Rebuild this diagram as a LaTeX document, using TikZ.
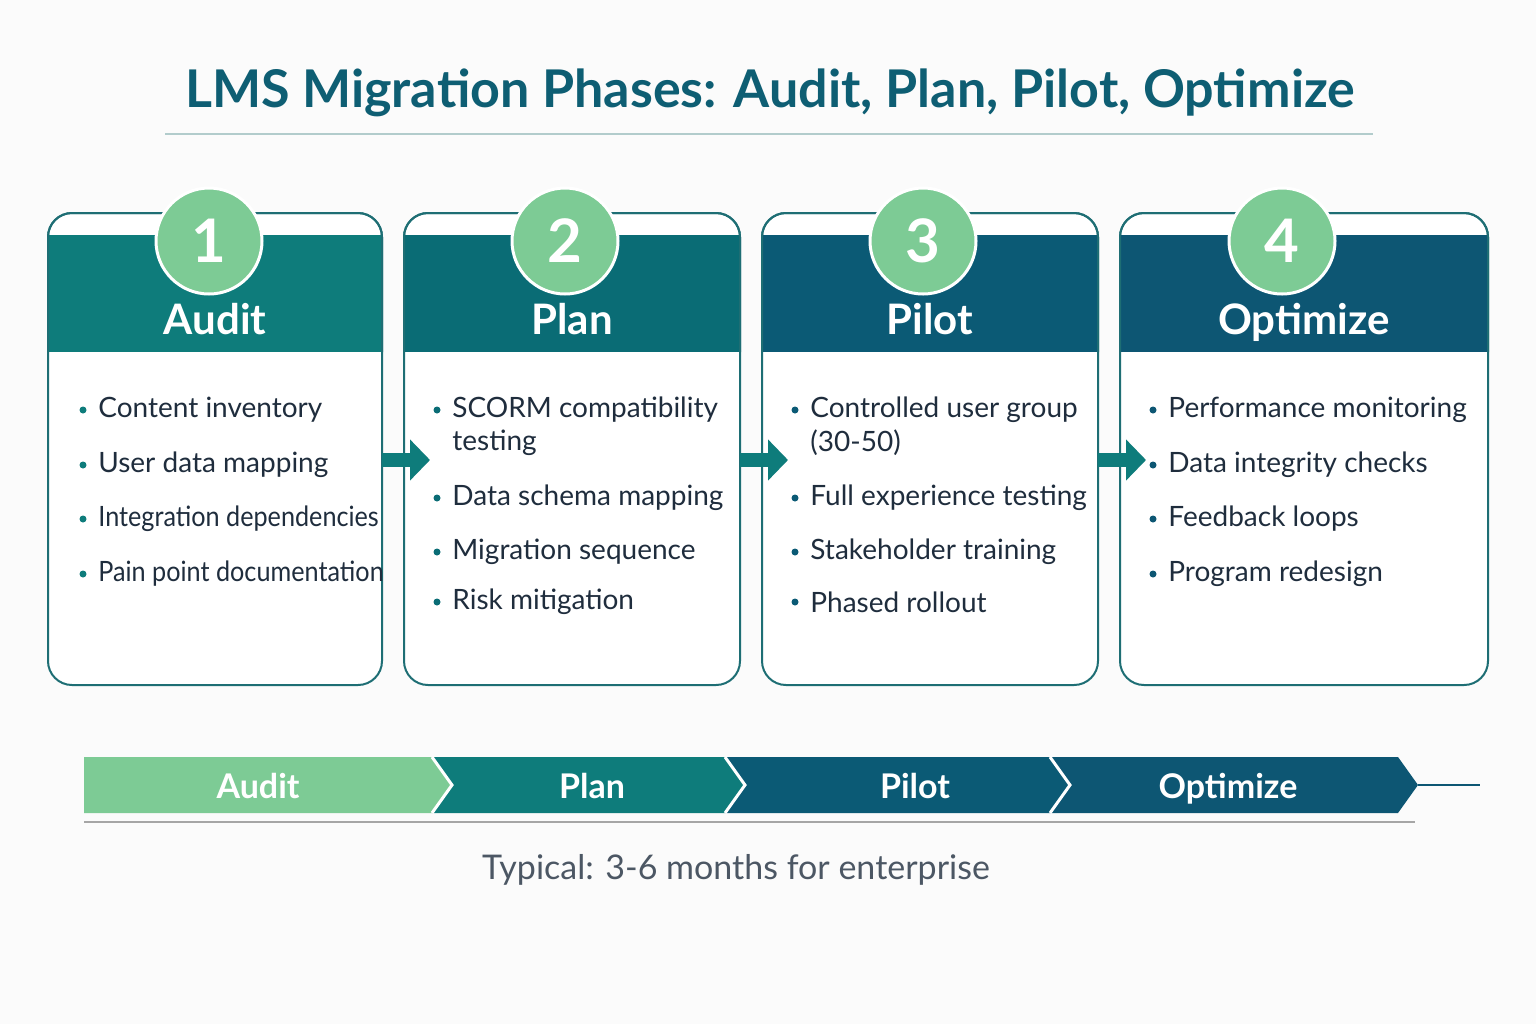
\documentclass[tikz,border=0pt]{standalone}
\usepackage{fontspec}
\setmainfont{Lato}
\usetikzlibrary{shapes.geometric,arrows.meta}
\definecolor{tealA}{HTML}{0E7C7B}
\definecolor{tealB}{HTML}{0A6C75}
\definecolor{tealC}{HTML}{0B5A75}
\definecolor{tealD}{HTML}{0D5673}
\definecolor{green1}{HTML}{7DCB95}
\definecolor{titlec}{HTML}{0E5E73}
\definecolor{txt}{HTML}{1F2D3D}
\definecolor{bord}{HTML}{1E6E74}
\begin{document}
\begin{tikzpicture}[x=0.5pt,y=-0.5pt,
  card/.style={draw=bord,line width=1pt,rounded corners=12pt,fill=white},
  num/.style={circle,fill=green1,draw=white,line width=1.5pt,minimum size=53pt,text=white,font=\fontsize{30}{30}\selectfont\bfseries},
  head/.style={anchor=base,text=white,font=\fontsize{21}{21}\selectfont\bfseries},
  item/.style={anchor=west,text=txt,font=\fontsize{14}{16}\selectfont,inner sep=0pt},
  dot/.style={circle,fill=#1,inner sep=0pt,minimum size=3.5pt},
  flow/.style={-{Triangle[length=10pt,width=20pt]},line width=7pt,draw=tealA},
  bar/.style={anchor=base,text=white,font=\fontsize{17}{17}\selectfont\bfseries}]
\fill[white!97!gray] (0,0) rectangle (1536,1024);
\useasboundingbox (0,0) rectangle (1536,1024);
\node[text=titlec,font=\fontsize{26}{28}\selectfont\bfseries] (title) at (770,93) {LMS Migration Phases: Audit, Plan, Pilot, Optimize};
\draw[color=gray!50!teal!40,line width=1pt] (165,134) -- (1373,134);

\foreach \i/\xa/\xb/\col/\nm in {1/48/382/tealA/Audit,2/404/740/tealB/Plan,3/762/1098/tealC/Pilot,4/1120/1488/tealD/Optimize}{
  \draw[card] (\xa,213) rectangle (\xb,685);
  \begin{scope}
    \clip[rounded corners=12pt] (\xa,213) rectangle (\xb,685);
    \fill[\col] (\xa,235) rectangle (\xb,352);
  \end{scope}
  \draw[bord,line width=1pt,rounded corners=12pt] (\xa,352) -- (\xa,213) -- (\xb,213) -- (\xb,352);
  \node[head] (h\i) at ({(\xa+\xb)/2},334) {\nm};
}
\node[num] (n1) at (209,241) {1};
\node[num] (n2) at (565,241) {2};
\node[num] (n3) at (923,241) {3};
\node[num] (n4) at (1282,241) {4};

% card 1
\foreach \k/\y/\t in {a/410/Content inventory,b/465/User data mapping}{
  \node[dot=tealA] (d1\k) at (83,\y) {}; \node[item] (t1\k) at (98,\y) {\t};}
\node[dot=tealA] (d1c) at (83,519) {}; \node[item] (t1c) at (98,519) {\scalebox{0.9}[1]{Integration dependencies}};
\node[dot=tealA] (d1d) at (83,574) {}; \node[item] (t1d) at (98,574) {\scalebox{0.9}[1]{Pain point documentation}};
% card 2
\foreach \k/\y/\t in {a/410/SCORM compatibility,c/498/Data schema mapping,d/552/Migration sequence,e/602/Risk mitigation}{
  \node[dot=tealB] (d2\k) at (437,\y) {}; \node[item] (t2\k) at (452,\y) {\t};}
\node[item] (t2b) at (452,443) {testing};
% card 3
\foreach \k/\y/\t in {a/410/Controlled user group,c/498/Full experience testing,d/552/Stakeholder training,e/602/Phased rollout}{
  \node[dot=tealC] (d3\k) at (795,\y) {}; \node[item] (t3\k) at (810,\y) {\t};}
\node[item] (t3b) at (810,443) {(30-50)};
% card 4
\foreach \k/\y/\t in {a/410/Performance monitoring,b/465/Data integrity checks,c/519/Feedback loops,d/574/Program redesign}{
  \node[dot=tealD] (d4\k) at (1153,\y) {}; \node[item] (t4\k) at (1168,\y) {\t};}

\coordinate (a1s) at (382,460); \coordinate (a1e) at (430,460);
\coordinate (a2s) at (740,460); \coordinate (a2e) at (788,460);
\coordinate (a3s) at (1098,460); \coordinate (a3e) at (1146,460);
\draw[flow] (a1s) -- (a1e);
\draw[flow] (a2s) -- (a2e);
\draw[flow] (a3s) -- (a3e);

\fill[green1] (84,757) -- (432,757) -- (452,785) -- (432,813) -- (84,813) -- cycle;
\fill[tealA] (432,757) -- (725,757) -- (745,785) -- (725,813) -- (432,813) -- (452,785) -- cycle;
\fill[tealC] (725,757) -- (1050,757) -- (1070,785) -- (1050,813) -- (725,813) -- (745,785) -- cycle;
\fill[tealD] (1050,757) -- (1398,757) -- (1418,785) -- (1398,813) -- (1050,813) -- (1070,785) -- cycle;
\draw[white,line width=1.5pt] (432,757) -- (452,785) -- (432,813) (725,757) -- (745,785) -- (725,813) (1050,757) -- (1070,785) -- (1050,813);
\node[bar] (b1) at (258,798) {Audit};
\node[bar] (b2) at (592,798) {Plan};
\node[bar] (b3) at (915,798) {Pilot};
\node[bar] (b4) at (1228,798) {Optimize};
\draw[gray!70,line width=0.7pt] (84,822) -- (1415,822);
\draw[tealD,line width=0.7pt] (1418,785) -- (1480,785);
\node[text=txt!80,font=\fontsize{17}{17}\selectfont] (sub) at (736,870) {Typical: 3-6 months for enterprise};
\end{tikzpicture}
\end{document}
